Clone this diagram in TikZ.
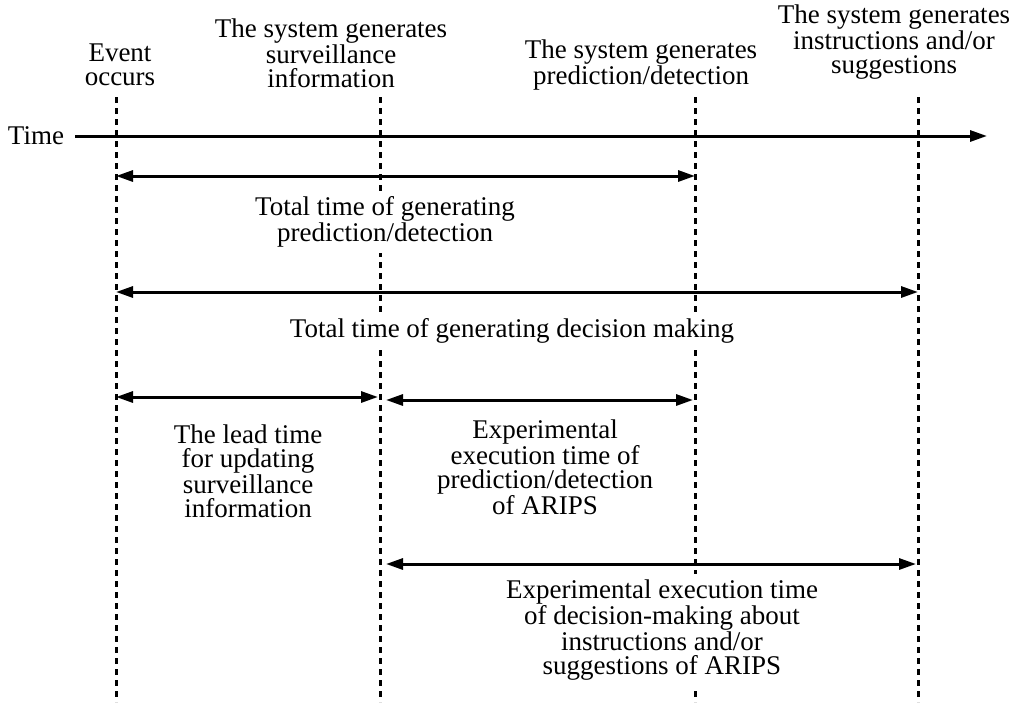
\documentclass[tikz,border=0pt]{standalone}
\usepackage{fontspec}
\setmainfont{Liberation Serif}
\usetikzlibrary{arrows.meta}
\begin{document}
\begin{tikzpicture}[x=1pt,y=-1pt,
  guide/.style={line width=3pt,dash pattern=on 6pt off 5pt},
  span/.style={line width=3pt,{Triangle[length=17pt,width=11pt]}-{Triangle[length=17pt,width=11pt]}},
  axis/.style={line width=3pt,-{Triangle[length=17pt,width=11pt]}},
  lbl/.style={align=center,fill=white,inner sep=6pt,
    font=\fontsize{27}{24}\selectfont},
  head/.style={align=center,inner sep=0pt,
    font=\fontsize{27}{24}\selectfont}]
\useasboundingbox (0,0) rectangle (1020,702);

% milestone markers along the time line
\coordinate (evT) at (116,97);  \coordinate (evB) at (116,702);
\coordinate (svT) at (380,97);  \coordinate (svB) at (380,702);
\coordinate (pdT) at (695,97);  \coordinate (pdB) at (695,702);
\coordinate (isT) at (918,97);  \coordinate (isB) at (918,702);
\draw[guide] (evT) -- (evB);
\draw[guide] (svT) -- (svB);
\draw[guide] (pdT) -- (pdB);
\draw[guide] (isT) -- (isB);

% milestone captions
\node[head] (evH) at (120,65) {Event\\occurs};
\node[head] (svH) at (331,53) {The system generates\\surveillance\\information};
\node[head] (pdH) at (641,65) {The system generates\\prediction/detection};
\node[head] (isH) at (894,42) {The system generates\\instructions and/or\\suggestions};

% time axis
\node[head] (time) at (36,136) {Time};
\coordinate (axS) at (75,136);
\coordinate (axE) at (987,136);
\draw[axis] (axS) -- (axE);

% interval end points
\coordinate (a1L) at (116,176); \coordinate (a1R) at (695,176);
\coordinate (a2L) at (116,292); \coordinate (a2R) at (918,292);
\coordinate (a3L) at (116,397); \coordinate (a3R) at (378,397);
\coordinate (a4L) at (386,400); \coordinate (a4R) at (693,400);
\coordinate (a5L) at (386,564); \coordinate (a5R) at (916,564);

% interval labels (white boxes hide the guides behind them)
\node[lbl] (l1) at (385,222) {Total time of generating\\prediction/detection};
\node[lbl] (l2) at (512,331) {Total time of generating decision making};
\node[lbl] (l3) at (248,471) {The lead time\\for updating\\surveillance\\information};
\node[lbl] (l4) at (545,467) {Experimental\\execution time of\\prediction/detection\\of ARIPS};
\node[lbl] (l5) at (662,630) {Experimental execution time\\of decision-making about\\instructions and/or\\suggestions of ARIPS};

% intervals
\draw[span] (a1L) -- (a1R);
\draw[span] (a2L) -- (a2R);
\draw[span] (a3L) -- (a3R);
\draw[span] (a4L) -- (a4R);
\draw[span] (a5L) -- (a5R);
\end{tikzpicture}
\end{document}
